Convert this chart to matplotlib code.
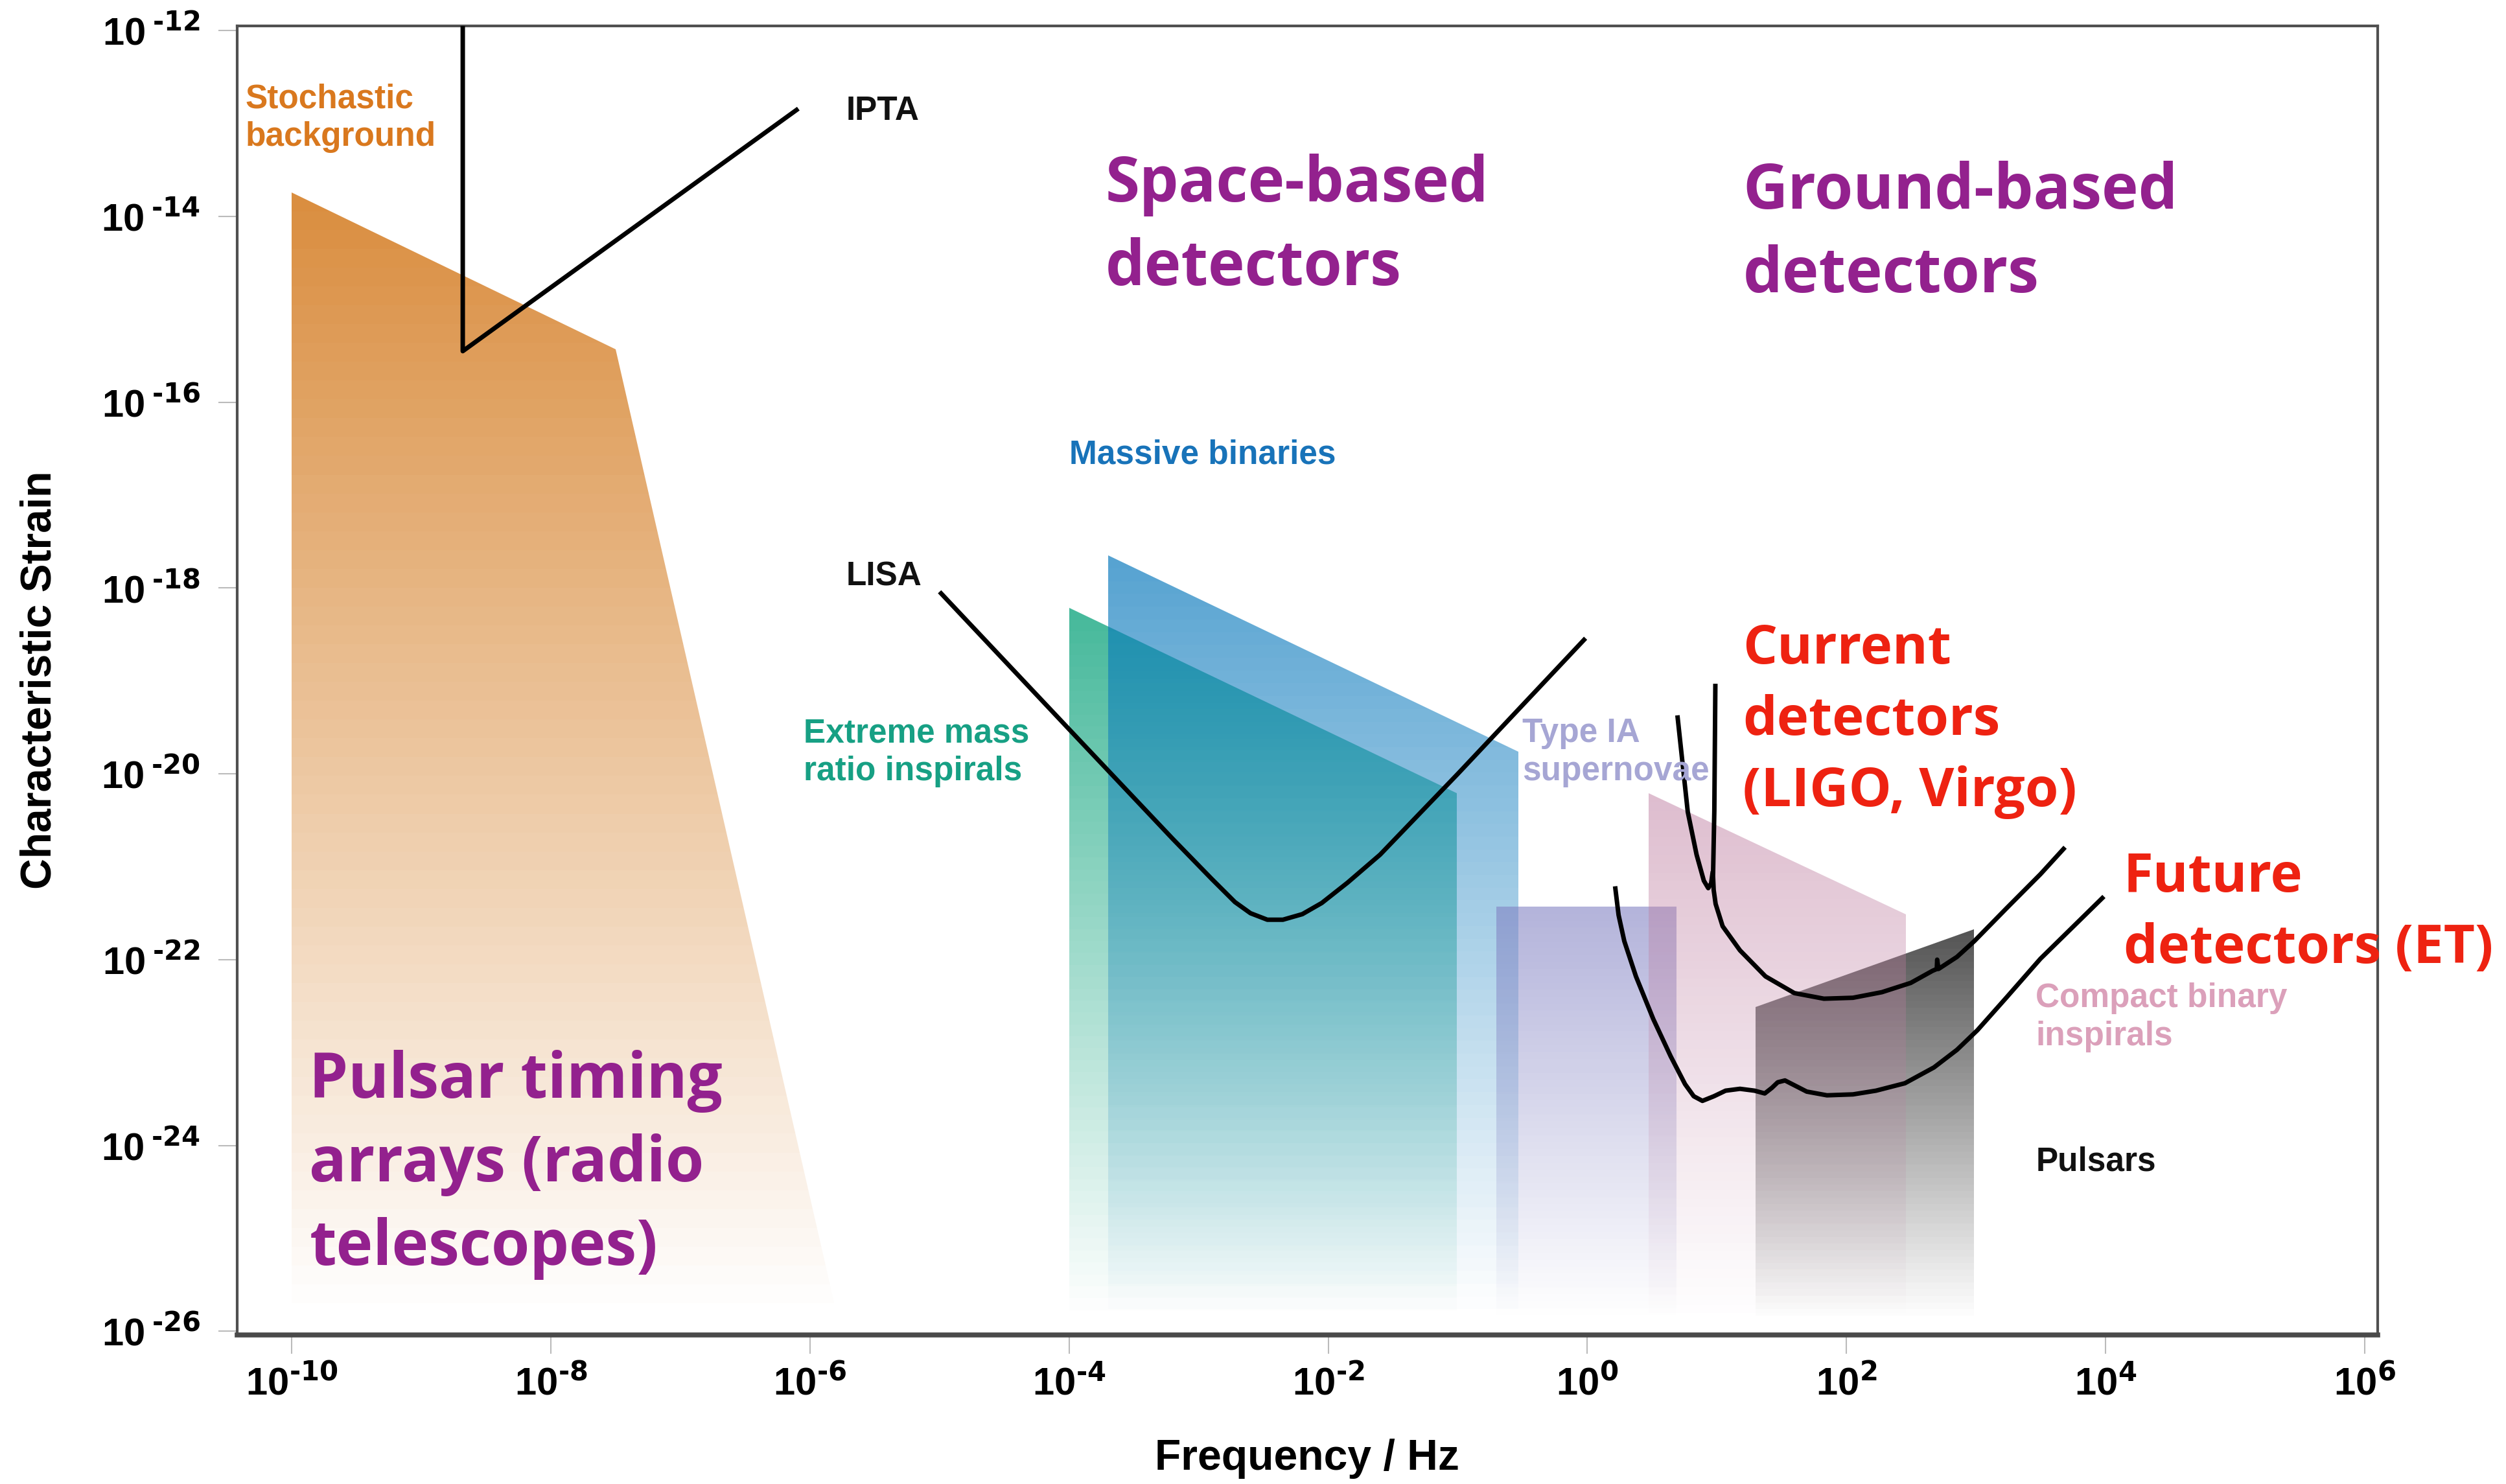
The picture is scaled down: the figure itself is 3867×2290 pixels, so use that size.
import numpy as np
import matplotlib.pyplot as plt
from matplotlib import font_manager
from matplotlib.patches import Polygon
from matplotlib.colors import LinearSegmentedColormap, to_rgb
from matplotlib.ticker import NullLocator

# ---- data (log10 of frequency / Hz and log10 of characteristic strain) ----
stoch_logf = [-10.0, -10.0, -7.50, -5.78]
stoch_logh = [-25.9, -13.74, -15.43, -25.9]

emri_logf = [-4.0, -4.0, -1.01, -1.01]
emri_logh = [-25.9, -18.21, -20.21, -25.9]

massive_logf = [-3.70, -3.70, -0.53, -0.53]
massive_logh = [-25.9, -17.65, -19.76, -25.9]

sn_logf = [-0.705, -0.705, 0.69, 0.69]
sn_logh = [-25.9, -21.43, -21.43, -25.9]

cbc_logf = [0.475, 0.475, 2.46, 2.46]
cbc_logh = [-25.9, -20.21, -21.51, -25.9]

pulsar_logf = [1.30, 1.30, 2.985, 2.985]
pulsar_logh = [-25.9, -22.51, -21.67, -25.9]

ipta_logf = [-8.68, -8.68, -6.09]
ipta_logh = [-11.95, -15.45, -12.84]

lisa_logf = [-5.0, -4.0, -3.2, -2.9, -2.72, -2.6, -2.47, -2.35, -2.2, -2.05, -1.85, -1.6, -1.0, -0.014]
lisa_logh = [-18.04, -19.52, -20.70, -21.13, -21.38, -21.50, -21.57, -21.57, -21.51, -21.39, -21.17, -20.87,
             -20.00, -18.54]

ligo_notch_logf = [0.695, 0.775, 0.843, 0.899, 0.933, 0.955, 0.968]
ligo_notch_logh = [-19.37, -20.41, -20.87, -21.15, -21.23, -21.18, -21.05]

ligo_logf = [0.988, 0.980, 0.970, 0.975, 0.990, 1.044, 1.178, 1.375, 1.598, 1.826, 2.050, 2.273,
             2.496, 2.664, 2.697, 2.700, 2.710, 2.853, 2.987, 3.233, 3.497, 3.687]
ligo_logh = [-19.03, -20.40, -21.10, -21.25, -21.40, -21.64, -21.90, -22.18, -22.36, -22.42, -22.41, -22.35,
             -22.25, -22.12, -22.10, -22.00, -22.10, -21.97, -21.80, -21.45, -21.08, -20.79]

et_logf = [0.214, 0.241, 0.285, 0.375, 0.509, 0.643, 0.754, 0.821, 0.888, 0.977, 1.067, 1.178, 1.290,
           1.369, 1.424, 1.469, 1.525, 1.581, 1.693, 1.849, 2.050, 2.228, 2.451, 2.675, 2.853, 3.010,
           3.233, 3.497, 3.987]
et_logh = [-21.21, -21.52, -21.80, -22.18, -22.64, -23.04, -23.34, -23.47, -23.52, -23.47, -23.41, -23.39, -23.41,
           -23.44, -23.38, -23.32, -23.30, -23.34, -23.42, -23.46, -23.45, -23.41, -23.33, -23.16, -22.97, -22.76,
           -22.41, -21.99, -21.32]

xtick_exp = [-10, -8, -6, -4, -2, 0, 2, 4, 6]
ytick_exp = [-12, -14, -16, -18, -20, -22, -24, -26]

# ---- fonts ----
names = {f.name for f in font_manager.fontManager.ttflist}
tick_font = 'Liberation Sans Narrow' if 'Liberation Sans Narrow' in names else 'Liberation Sans'
tick_size = 52 if tick_font == 'Liberation Sans Narrow' else 43
plt.rcParams['font.family'] = [tick_font, 'DejaVu Sans']
plt.rcParams['font.weight'] = 'bold'

fig = plt.figure(figsize=(38.67, 22.90), dpi=100)
ax = fig.add_axes([0.0947, 0.1004, 0.8541, 0.8821])
ax.set_xscale('log')
ax.set_yscale('log')
ax.set_xlim(10**-10.42, 10**6.1)
ax.set_ylim(10**-26.04, 10**-11.95)


def gradient_region(logf, logh, color, alpha_top, z, nband=60):
    f = 10.0**np.asarray(logf)
    h = 10.0**np.asarray(logh)
    poly = Polygon(np.column_stack([f, h]), closed=True, facecolor='none',
                   edgecolor='none', transform=ax.transData)
    ax.add_patch(poly)
    yedges = np.geomspace(h.min(), h.max(), nband + 1)
    xedges = [f.min(), f.max()]
    t = np.linspace(0, 1, nband)[:, None]
    rgb = to_rgb(color)
    cmap = LinearSegmentedColormap.from_list('g', [(*rgb, 0.0), (*rgb, alpha_top)])
    mesh = ax.pcolormesh(xedges, yedges, t, cmap=cmap, vmin=0, vmax=1,
                         shading='flat', zorder=z, antialiased=False, linewidth=0)
    mesh.set_clip_path(poly)


gradient_region(stoch_logf, stoch_logh, '#da8e40', 1.0, 1)
gradient_region(emri_logf, emri_logh, '#46b99b', 1.0, 2)
gradient_region(massive_logf, massive_logh, '#0878bc', 0.68, 3)
gradient_region(sn_logf, sn_logh, '#8282c3', 0.6, 4)
gradient_region(pulsar_logf, pulsar_logh, '#555555', 1.0, 5)
gradient_region(cbc_logf, cbc_logh, '#be7da0', 0.5, 6)

line_kw = dict(color='black', lw=5, solid_joinstyle='round', solid_capstyle='butt', zorder=8)
ax.plot(10.0**np.array(ipta_logf), 10.0**np.array(ipta_logh), **line_kw)
ax.plot(10.0**np.array(lisa_logf), 10.0**np.array(lisa_logh), **line_kw)
ax.plot(10.0**np.array(ligo_notch_logf), 10.0**np.array(ligo_notch_logh), **line_kw)
ax.plot(10.0**np.array(ligo_logf), 10.0**np.array(ligo_logh), **line_kw)
ax.plot(10.0**np.array(et_logf), 10.0**np.array(et_logh), **line_kw)

# ---- labels ----
small = dict(family='Liberation Sans', weight='bold', fontsize=37, ha='left', va='center',
             linespacing=1.25, zorder=9)
ax.text(10**-10.36, 10**-12.94, 'Stochastic\nbackground', color='#d9781e', **small)
ax.text(10**-5.72, 10**-12.87, 'IPTA', color='#111111', **small)
ax.text(10**-4.0, 10**-16.57, 'Massive binaries', color='#1873b9', **small)
ax.text(10**-5.72, 10**-17.88, 'LISA', color='#111111', **small)
ax.text(10**-6.05, 10**-19.77, 'Extreme mass\nratio inspirals', color='#17a084', **small)
ax.text(10**-0.50, 10**-19.77, 'Type IA\nsupernovae', color='#a6a6d4', **small)
ax.text(10**3.46, 10**-22.62, 'Compact binary\ninspirals', color='#dba0ba', **small)
ax.text(10**3.46, 10**-24.18, 'Pulsars', color='#111111', **small)

big = dict(family='Open Sans', weight='bold', ha='left', va='center', linespacing=1.43, zorder=10)
purple = '#93218e'
red = '#ee2211'
ax.text(10**-3.72, 10**-14.11, 'Space-based\ndetectors', color=purple, fontsize=69, **big)
ax.text(10**1.20, 10**-14.19, 'Ground-based\ndetectors', color=purple, fontsize=69, **big)
ax.text(10**-9.864, 10**-24.21, 'Pulsar timing\narrays (radio\ntelescopes)', color=purple, fontsize=69, **big)
ax.text(10**1.20, 10**-19.43, 'Current\ndetectors\n(LIGO, Virgo)', color=red, fontsize=60, **big)
ax.text(10**4.138, 10**-21.50, 'Future\ndetectors (ET)', color=red, fontsize=60, **big)

# ---- axes styling ----
ax.set_xticks([10.0**k for k in xtick_exp])
ax.set_xticklabels([r'$\mathregular{10^{\text{%s}}}$' % str(k).replace('-', '-') for k in xtick_exp])
ax.set_yticks([10.0**k for k in ytick_exp])
ax.set_yticklabels([r'$\mathregular{10\,^{\text{%s}}}$' % str(k) for k in ytick_exp])
ax.xaxis.set_minor_locator(NullLocator())
ax.yaxis.set_minor_locator(NullLocator())
ax.tick_params(axis='both', direction='out', length=21, width=1.5, color='#bbbbbb',
               labelsize=tick_size, labelcolor='black')
ax.tick_params(axis='x', pad=13)
ax.tick_params(axis='y', pad=20)

for side in ['left', 'top', 'right']:
    ax.spines[side].set_linewidth(3)
    ax.spines[side].set_color('#505050')
ax.spines['bottom'].set_linewidth(5.5)
ax.spines['bottom'].set_color('#4a4a4a')

fig.text(0.016, 0.542, 'Characteristic Strain', rotation=90, ha='center', va='center',
         family='Liberation Sans', weight='bold', fontsize=47.5)
fig.text(0.5216, 0.017, 'Frequency / Hz', ha='center', va='center',
         family='Liberation Sans', weight='bold', fontsize=47.5)

fig.savefig('out.png', dpi=100)
